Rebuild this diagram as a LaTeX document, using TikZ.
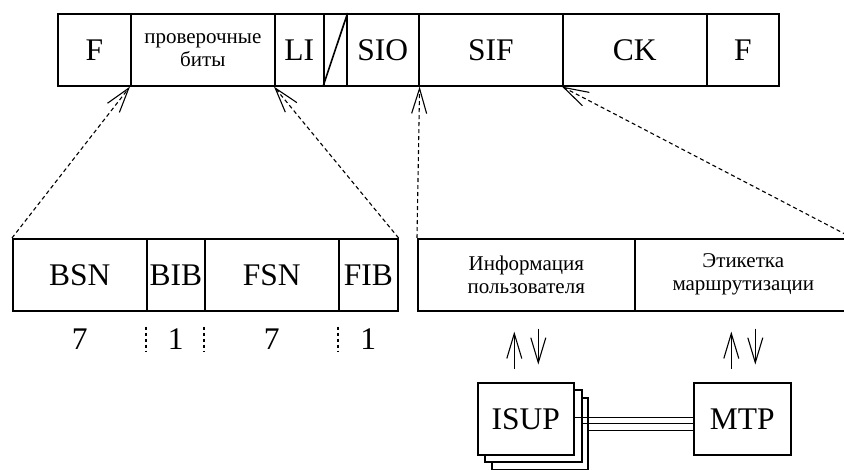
\documentclass[tikz,border=0pt]{standalone}
\usepackage{fontspec}
\setmainfont{Liberation Serif}
\usetikzlibrary{arrows.meta}
\begin{document}
\begin{tikzpicture}[x=1pt,y=-1pt,
  field/.style={draw, line width=1.6pt, minimum height=72pt, inner sep=0pt,
    anchor=north west, font=\fontsize{31.5}{31.5}\selectfont},
  small/.style={font=\fontsize{21}{23}\selectfont, align=center},
  num/.style={font=\fontsize{31.5}{31.5}\selectfont, inner sep=0pt},
  ptr/.style={line width=1.1pt, dash pattern=on 4pt off 3pt,
    -{Straight Barb[length=25pt,width=15pt,line width=1.1pt]}},
  sep/.style={line width=1.1pt, dash pattern=on 3pt off 3pt},
  flow/.style={line width=1.1pt, -{Straight Barb[length=25pt,width=15pt,line width=1.1pt]}},
  block/.style={draw, fill=white, line width=1.6pt, minimum width=96pt,
    minimum height=72pt, inner sep=0pt, anchor=north west,
    font=\fontsize{31.5}{31.5}\selectfont},
  link/.style={line width=1pt}]
\clip (0,0) rectangle (844,470);

% signal unit frame
\node[field, minimum width=73pt]  (f1)  at (57,13)  {F};
\node[field, minimum width=144pt, small] (chk) at (130,13) {проверочные\\биты};
\node[field, minimum width=49pt]  (li)  at (274,13) {LI};
\node[field, minimum width=23pt]  (sl)  at (323,13) {};
\node[field, minimum width=72pt]  (sio) at (346,13) {SIO};
\node[field, minimum width=144pt] (sif) at (418,13) {SIF};
\node[field, minimum width=144pt] (ck)  at (562,13) {CK};
\node[field, minimum width=72pt]  (f2)  at (706,13) {F};
\draw[line width=1.6pt] (sl.south west) -- (sl.north east);

% sequence-number octets
\node[field, minimum width=134pt] (bsn) at (12,238)  {BSN};
\node[field, minimum width=58pt]  (bib) at (146,238) {BIB};
\node[field, minimum width=134pt] (fsn) at (204,238) {FSN};
\node[field, minimum width=59pt]  (fib) at (338,238) {FIB};

% bit widths
\node[num] (n1) at ([yshift=-28pt]bsn.south) {7};
\node[num] (n2) at ([yshift=-28pt]bib.south) {1};
\node[num] (n3) at ([yshift=-28pt]fsn.south) {7};
\node[num] (n4) at ([yshift=-28pt]fib.south) {1};
\draw[sep] ([yshift=-15pt]bib.south west) -- ++(0,25);
\draw[sep] ([yshift=-15pt]fsn.south west) -- ++(0,25);
\draw[sep] ([yshift=-15pt]fib.south west) -- ++(0,25);

% signalling information field
\node[field, minimum width=217pt, small] (inf) at (417,238) {Информация\\пользователя};
\node[field, minimum width=217pt, small] (lab) at (634,238) {Этикетка\\маршрутизации};

% pointers to the frame
\draw[ptr] (bsn.north west) -- (chk.south west);
\draw[ptr] (fib.north east) -- (li.south west);
\draw[ptr] (inf.north west) -- (sio.south east);
\draw[ptr] (lab.north east) -- (ck.south west);

% user parts and message transfer part
\node[block, minimum width=96pt] (isup3) at (491,397) {};
\node[block, minimum width=97pt] (isup2) at (484,389) {};
\node[block] (isup) at (477,382) {ISUP};
\node[block, minimum width=97pt] (mtp) at (693,382) {MTP};

\coordinate (u1a) at ([xshift=-12pt,yshift=-57pt]inf.south);
\coordinate (u1b) at ([xshift=-12pt,yshift=-20pt]inf.south);
\coordinate (d1a) at ([xshift=12pt,yshift=-17pt]inf.south);
\coordinate (d1b) at ([xshift=12pt,yshift=-53pt]inf.south);
\coordinate (u2a) at ([xshift=-12pt,yshift=-57pt]lab.south);
\coordinate (u2b) at ([xshift=-12pt,yshift=-20pt]lab.south);
\coordinate (d2a) at ([xshift=12pt,yshift=-17pt]lab.south);
\coordinate (d2b) at ([xshift=12pt,yshift=-53pt]lab.south);
\draw[flow] (u1a) -- (u1b);
\draw[flow] (d1a) -- (d1b);
\draw[flow] (u2a) -- (u2b);
\draw[flow] (d2a) -- (d2b);

% trunk between the user parts and MTP
\coordinate (t1) at ([yshift=1pt]isup.east);
\coordinate (t2) at ([yshift=2pt]isup2.east);
\coordinate (t3) at ([yshift=3pt]isup3.east);
\draw[link] (t1) -- (t1 -| mtp.west);
\draw[link] (t2) -- (t2 -| mtp.west);
\draw[link] (t3) -- (t3 -| mtp.west);
\end{tikzpicture}
\end{document}
